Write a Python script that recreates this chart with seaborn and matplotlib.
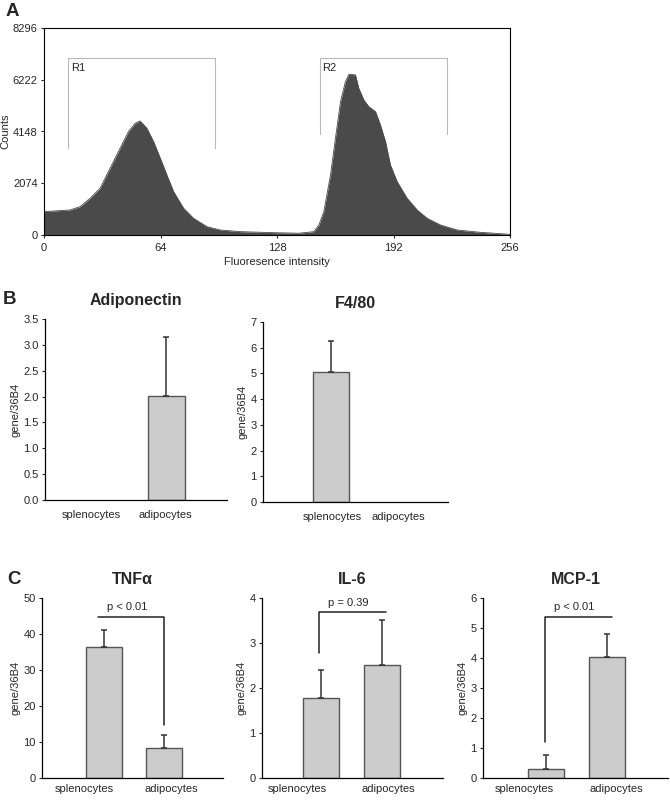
import matplotlib
matplotlib.use('Agg')
import matplotlib.pyplot as plt
import seaborn as sns

sns.set_theme(style='ticks')
plt.rcParams['font.family'] = ['Liberation Sans', 'DejaVu Sans']

# painel A - histograma de citometria
flow_x = [0, 14.3, 19.8, 25.3, 30.8, 36.3, 41.8, 46.4, 50.1, 52.8, 56.5, 60.2, 63.9,
          67.5, 71.2, 76.7, 82.2, 89.5, 96.9, 107.9, 126.2, 140, 148.2, 151.0, 153.7,
          157.4, 160.1, 162.9, 165.6, 167.5, 171.1, 172.9, 175.7, 178.4, 182.1, 184.8,
          187.6, 190.3, 194.0, 199.5, 205.0, 210.5, 217.8, 227.0, 239.8, 256]
flow_counts = [936, 1003, 1136, 1470, 1872, 2674, 3476, 4145, 4479, 4572, 4278, 3744, 3075,
               2407, 1738, 1070, 668, 334, 200, 134, 94, 70, 134, 400, 936,
               2407, 3877, 5348, 6150, 6444, 6417, 5883, 5415, 5147, 4947, 4412,
               3744, 2808, 2139, 1471, 1003, 668, 401, 200, 107, 27]
gate_names = ['R1', 'R2']
gate_left = [13.4, 151.5]
gate_right = [93.8, 221.6]
gate_top = [7086, 7086]
gate_bottom = [3476, 4038]

# paineis B e C - expressao relativa
cells = ['splenocytes', 'adipocytes']
adiponectin = [0, 2.02]
adiponectin_err = [0, 1.13]
f480 = [5.06, 0]
f480_err = [1.20, 0]
tnfa = [36.3, 8.3]
tnfa_err = [4.9, 3.7]
il6 = [1.78, 2.52]
il6_err = [0.61, 1.00]
mcp1 = [0.30, 4.02]
mcp1_err = [0.46, 0.79]

W, H = 670, 800
fig = plt.figure(figsize=(6.7, 8), dpi=100)


def place(left, top, right, bottom):
    return fig.add_axes([left / W, 1 - bottom / H, (right - left) / W, (bottom - top) / H])


# ---------- A ----------
ax = place(44, 28, 510, 235)
ax.fill_between(flow_x, flow_counts, color='#4a4a4a', lw=0)
sns.lineplot(x=flow_x, y=flow_counts, color='#4a4a4a', lw=0.6, ax=ax)
for name, x0, x1, yt, yb in zip(gate_names, gate_left, gate_right, gate_top, gate_bottom):
    ax.plot([x0, x0, x1, x1], [yb, yt, yt, yb], color='#b8b8b8', lw=0.8)
    ax.text(x0 + 1.3, yt - 400, name, fontsize=8, va='center', ha='left')
ax.set_xlim(0, 256)
ax.set_ylim(0, 8296)
ax.set_xticks([0, 64, 128, 192, 256])
ax.set_yticks([0, 2074, 4148, 6222, 8296])
ax.tick_params(labelsize=8, length=2.5, width=0.8, pad=2)
ax.tick_params(axis='x', pad=3)
for s in ax.spines.values():
    s.set_color('black')
    s.set_linewidth(0.8)
ax.set_xlabel('Fluoresence intensity', fontsize=8, labelpad=3)
ax.set_ylabel('Counts', fontsize=8, labelpad=2)


def bar_panel(ax, values, errors, title, ymax, yticks, xlim, label_pos, xpad, ytfmt=None):
    sns.barplot(x=cells, y=values, order=cells, width=0.6, color='#cccccc',
                edgecolor='#555555', linewidth=1, ax=ax)
    for p, e in zip(ax.patches, errors):
        if p.get_height() == 0:
            p.set_linewidth(0)  # barra vazia: sem contorno
        if e > 0:
            xc = p.get_x() + p.get_width() / 2
            ax.errorbar(xc, p.get_height(), yerr=[[0], [e]], fmt='none', ecolor='#333333',
                        elinewidth=1.1, capsize=2, capthick=1.1, zorder=1)
    ax.set_xlim(*xlim)
    ax.set_ylim(0, ymax)
    ax.set_yticks(yticks)
    if ytfmt:
        ax.set_yticklabels([ytfmt.format(v) for v in yticks])
    ax.set_xticks(label_pos, cells)
    ax.tick_params(axis='x', length=0, labelsize=8, pad=xpad)
    ax.tick_params(axis='y', length=2.5, width=0.8, labelsize=8, pad=2)
    sns.despine(ax=ax)
    for s in ['left', 'bottom']:
        ax.spines[s].set_color('black')
        ax.spines[s].set_linewidth(0.9)
    ax.set_xlabel('')
    ax.set_ylabel('gene/36B4', fontsize=8, labelpad=2)
    ax.set_title(title, fontsize=11.5, fontweight='bold', pad=10)


def bracket(ax, xs, ys, text, tx, ty):
    ax.plot(xs, ys, color='#222222', lw=1.1)
    ax.text(tx, ty, text, fontsize=8, ha='center', va='center')


# ---------- B ----------
ax = place(45, 319, 227, 500)
bar_panel(ax, adiponectin, adiponectin_err, 'Adiponectin', 3.5,
          [0, 0.5, 1, 1.5, 2, 2.5, 3, 3.5], (-1.0, 2.0), [-0.24, 0.98], 7, '{:.1f}')
ax = place(263, 322, 448, 502)
bar_panel(ax, f480, f480_err, 'F4/80', 7, range(8), (-1.13, 1.95), [0.02, 1.12], 7)

# ---------- C ----------
ax = place(42, 598, 223, 778)
bar_panel(ax, tnfa, tnfa_err, 'TNFα', 50, range(0, 51, 10), (-1.03, 1.98), [-0.32, 1.12], 4)
bracket(ax, [-0.1, 1.0, 1.0], [44.7, 44.7, 14.8], 'p < 0.01', 0.38, 47.6)

ax = place(262, 598, 443, 778)
bar_panel(ax, il6, il6_err, 'IL-6', 4, range(5), (-0.97, 2.0), [-0.39, 1.11], 4)
bracket(ax, [-0.04, -0.04, 1.06], [2.78, 3.69, 3.69], 'p = 0.39', 0.445, 3.9)

ax = place(483, 598, 668, 778)
bar_panel(ax, mcp1, mcp1_err, 'MCP-1', 6, range(7), (-1.03, 2.0), [-0.36, 1.16], 4)
bracket(ax, [-0.02, -0.02, 1.08], [1.19, 5.37, 5.37], 'p < 0.01', 0.47, 5.69)

# letras dos paineis
fig.text(6 / W, 1 - 12 / H, 'A', fontsize=13.5, fontweight='bold', va='center', ha='left')
fig.text(3 / W, 1 - 299 / H, 'B', fontsize=13.5, fontweight='bold', va='center', ha='left')
fig.text(7 / W, 1 - 579 / H, 'C', fontsize=13.5, fontweight='bold', va='center', ha='left')

fig.savefig('out.png', dpi=100, facecolor='white')
